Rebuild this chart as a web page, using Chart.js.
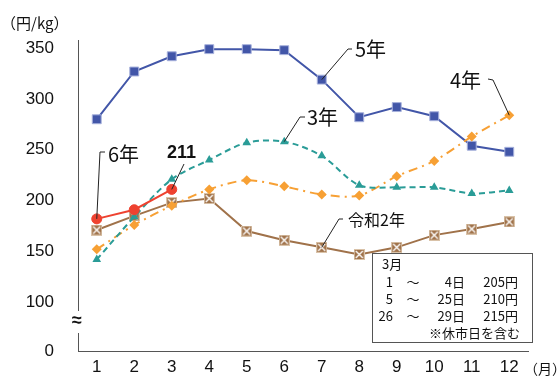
<!DOCTYPE html>
<html>
<head>
<meta charset="utf-8">
<script src="https://cdn.jsdelivr.net/npm/chart.js@4/dist/chart.umd.min.js"></script>
<style>
  html, body { margin: 0; padding: 0; background: #fff; }
  canvas { display: block; }
</style>
</head>
<body>
<canvas id="c" width="560" height="378"></canvas>
<script>
// Monthly price (円/kg), months 1–12
const months = ['1', '2', '3', '4', '5', '6', '7', '8', '9', '10', '11', '12'];
const reiwa2 = [171, 185, 198, 202, 170, 161, 154, 147, 154, 166, 172, 179];
const reiwa3 = [142, 184, 221, 240, 257, 258, 244, 215, 213, 213, 207, 210];
const reiwa4 = [152, 176, 195, 211, 220, 214, 206, 205, 224, 239, 263, 284];
const reiwa5 = [280, 327, 342, 349, 349, 348, 319, 282, 292, 283, 254, 248];
const reiwa6 = [182, 191, 211];
const yTickValues = [100, 150, 200, 250, 300, 350];
const yBreakValue = 52;   // bottom of the broken axis, labelled "0"
const yTop = 358;

// March price note
const noteTitle = '3月';
const noteRows = [
  ['1', '4日', '205円'],
  ['5', '25日', '210円'],
  ['26', '29日', '215円']
];
const noteFoot = '※休市日を含む';

const LATIN = '"Liberation Sans", Arial, sans-serif';
const JP = '"Noto Sans CJK JP", "Liberation Sans", sans-serif';

// brown square marker with a white cross
function crossBox(size, fill, edge) {
  const c = document.createElement('canvas');
  c.width = size; c.height = size;
  const g = c.getContext('2d');
  g.fillStyle = fill;
  g.fillRect(0, 0, size, size);
  g.strokeStyle = edge;
  g.lineWidth = 1;
  g.strokeRect(0.5, 0.5, size - 1, size - 1);
  g.strokeStyle = '#ffffff';
  g.lineWidth = 1.4;
  g.beginPath();
  g.moveTo(2, 2); g.lineTo(size - 2, size - 2);
  g.moveTo(size - 2, 2); g.lineTo(2, size - 2);
  g.stroke();
  return c;
}

const BLUE = '#4256A8', RED = '#EE4230', TEAL = '#2A9C97', ORANGE = '#F7A034', BROWN = '#A0724A';

// callout labels: text, dataset label, point index, text pos, leader elbow
const callouts = [
  { text: '5年', ds: '5年', idx: 6, x: 355, y: 49, font: '20px ' + JP, from: [352, 49], elbow: [348, 49] },
  { text: '4年', ds: '4年', idx: 11, x: 450, y: 80, font: '20px ' + JP, from: [488, 79], elbow: [493, 80] },
  { text: '3年', ds: '3年', idx: 5, x: 307, y: 117, font: '20px ' + JP, from: [305, 117], elbow: [300, 117] },
  { text: '令和2年', ds: '令和2年', idx: 6, x: 348, y: 220, font: '16px ' + JP, from: [343, 219], elbow: [339, 219] },
  { text: '6年', ds: '6年', idx: 0, x: 108, y: 154, font: '20px ' + JP, from: [105, 152], elbow: [100, 152] },
  { text: String(reiwa6[2]), ds: '6年', idx: 2, x: 167, y: 153, font: 'bold 18px ' + LATIN, from: [184, 164], elbow: null }
];

const annotate = {
  id: 'annotate',
  afterDatasetsDraw(chart) {
    const ctx = chart.ctx;
    const x = chart.scales.x, y = chart.scales.y;
    ctx.save();
    ctx.fillStyle = '#111';
    ctx.textBaseline = 'middle';
    ctx.textAlign = 'left';
    callouts.forEach(c => {
      const dsIndex = chart.data.datasets.findIndex(d => d.label === c.ds);
      const v = chart.data.datasets[dsIndex].data[c.idx];
      const px = x.getPixelForValue(c.idx);
      const py = y.getPixelForValue(v);
      ctx.strokeStyle = '#222';
      ctx.lineWidth = 1;
      ctx.beginPath();
      ctx.moveTo(c.from[0], c.from[1]);
      if (c.elbow) ctx.lineTo(c.elbow[0], c.elbow[1]);
      ctx.lineTo(px, py);
      ctx.stroke();
      ctx.font = c.font;
      ctx.fillText(c.text, c.x, c.y);
    });
    ctx.restore();
  },
  afterDraw(chart) {
    const ctx = chart.ctx;
    const area = chart.chartArea;
    ctx.save();
    // axis break
    ctx.fillStyle = '#fff';
    ctx.fillRect(area.left - 5, 311, 10, 22);
    ctx.fillStyle = '#111';
    ctx.font = 'bold 18px ' + LATIN;
    ctx.textAlign = 'center';
    ctx.textBaseline = 'middle';
    ctx.fillText('≈', area.left - 1, 321);

    // units
    ctx.font = '15px ' + JP;
    ctx.textAlign = 'left';
    ctx.fillText('（円/kg）', 1, 23);
    ctx.font = '14px ' + JP;
    ctx.fillText('（月）', 524, 369);

    // note box
    const bx = 372.5, by = 253.5, bw = 160, bh = 89;
    ctx.fillStyle = '#fff';
    ctx.fillRect(bx, by, bw, bh);
    ctx.strokeStyle = '#555';
    ctx.lineWidth = 1;
    ctx.strokeRect(bx, by, bw, bh);
    ctx.fillStyle = '#111';
    ctx.font = '13px ' + JP;
    ctx.textAlign = 'left';
    ctx.fillText(noteTitle, 382, 264);
    noteRows.forEach((r, i) => {
      const ry = 282 + i * 17;
      ctx.textAlign = 'right';
      ctx.fillText(r[0], 393, ry);
      ctx.textAlign = 'center';
      ctx.fillText('～', 413, ry);
      ctx.textAlign = 'right';
      ctx.fillText(r[1], 465, ry);
      ctx.fillText(r[2], 518, ry);
    });
    ctx.textAlign = 'right';
    ctx.fillText(noteFoot, 520, 333);
    ctx.restore();
  }
};

new Chart(document.getElementById('c'), {
  type: 'line',
  data: {
    labels: months,
    datasets: [
      {
        label: '6年', data: reiwa6,
        borderColor: RED, backgroundColor: RED, borderWidth: 2,
        pointStyle: 'circle', pointRadius: 5, pointBackgroundColor: RED, pointBorderColor: RED, pointBorderWidth: 1,
        tension: 0
      },
      {
        label: '3年', data: reiwa3,
        borderColor: TEAL, backgroundColor: TEAL, borderWidth: 2, borderDash: [6, 4],
        pointStyle: 'triangle', pointRadius: 5, pointBackgroundColor: TEAL, pointBorderColor: TEAL, pointBorderWidth: 0,
        tension: 0.3
      },
      {
        label: '4年', data: reiwa4,
        borderColor: ORANGE, backgroundColor: ORANGE, borderWidth: 2, borderDash: [9, 5, 2, 5],
        pointStyle: 'rectRot', pointRadius: 5, pointBackgroundColor: ORANGE, pointBorderColor: ORANGE, pointBorderWidth: 0,
        tension: 0.3
      },
      {
        label: '5年', data: reiwa5,
        borderColor: BLUE, backgroundColor: BLUE, borderWidth: 2,
        pointStyle: 'rect', pointRadius: 6.3, pointBackgroundColor: BLUE, pointBorderColor: '#A7B1DC', pointBorderWidth: 1,
        tension: 0
      },
      {
        label: '令和2年', data: reiwa2,
        borderColor: BROWN, backgroundColor: BROWN, borderWidth: 2,
        pointStyle: crossBox(11, BROWN, '#D9C2A8'), pointRadius: 5.5,
        tension: 0
      }
    ]
  },
  options: {
    responsive: false,
    animation: false,
    events: [],
    layout: { autoPadding: false, padding: { top: 40, right: 32, left: 0, bottom: 0 } },
    plugins: { legend: { display: false }, tooltip: { enabled: false } },
    scales: {
      x: {
        type: 'category',
        offset: true,
        grid: { display: false, drawTicks: false },
        border: { display: true, color: '#555', width: 1 },
        ticks: { color: '#111', font: { family: LATIN, size: 17 }, padding: 6, maxRotation: 0, autoSkip: false },
        afterFit(s) { s.height = 27; }
      },
      y: {
        type: 'linear',
        min: yBreakValue,
        max: yTop,
        grid: { display: false, drawTicks: true, tickLength: 20 },
        border: { display: true, color: '#555', width: 1 },
        afterBuildTicks(s) {
          s.ticks = [yBreakValue].concat(yTickValues).map(v => ({ value: v }));
        },
        ticks: {
          color: '#111',
          font: { family: LATIN, size: 17 },
          padding: 4,
          callback: v => (v === yBreakValue ? '0' : String(v))
        },
        afterFit(s) { s.width = 78; }
      }
    }
  },
  plugins: [annotate]
});
</script>
</body>
</html>
